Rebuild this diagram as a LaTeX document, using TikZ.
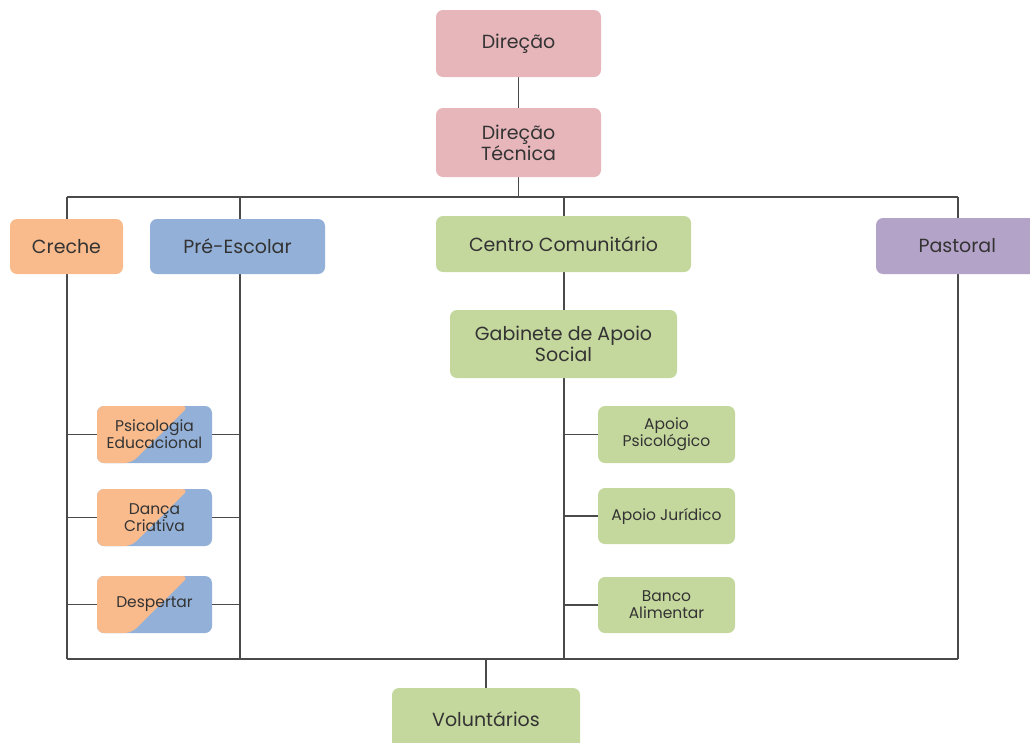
\documentclass[tikz,border=0pt]{standalone}
\usepackage{fontspec}
\setmainfont{Poppins}
\usetikzlibrary{calc,backgrounds}
\definecolor{pinkC}{HTML}{E6B6BA}
\definecolor{orangeC}{HTML}{F9BA8C}
\definecolor{blueC}{HTML}{93B1D8}
\definecolor{greenC}{HTML}{C4D79D}
\definecolor{purpleC}{HTML}{B4A3C8}
\definecolor{txtC}{HTML}{333333}
\definecolor{lineC}{HTML}{4A4A4A}
\tikzset{
  box/.style={rounded corners=7pt, text=txtC, align=center, inner sep=2pt,
    font=\fontsize{19}{21}\selectfont},
  small/.style={box, font=\fontsize{15.5}{17}\selectfont},
  split/.style={small, fill=blueC,
    path picture={\fill[orangeC] (path picture bounding box.south west)
      -- ($(path picture bounding box.south west)!0.3!(path picture bounding box.south east)$)
      -- ($(path picture bounding box.north west)!0.8!(path picture bounding box.north east)$)
      -- (path picture bounding box.north west) -- cycle;}},
  conn/.style={draw=lineC, line width=1.1pt}
}
\begin{document}
\begin{tikzpicture}[x=1pt,y=-1pt]
\useasboundingbox (0,0) rectangle (1030,742);
% main boxes
\node[box, fill=pinkC, minimum width=165pt, minimum height=67pt] (dir) at (518.5,43.5) {Direção};
\node[box, fill=pinkC, minimum width=165pt, minimum height=69pt] (dtec) at (518.5,142.5) {Direção\\Técnica};
\node[box, fill=orangeC, minimum width=113pt, minimum height=55pt] (creche) at (66.5,246.5) {Creche};
\node[box, fill=blueC, minimum width=175pt, minimum height=55pt] (pre) at (237.5,246.5) {Pré-Escolar};
\node[box, fill=greenC, minimum width=255pt, minimum height=56pt] (cc) at (563.5,244) {Centro Comunitário};
\node[box, fill=greenC, minimum width=227pt, minimum height=68pt] (gab) at (563.5,344) {Gabinete de Apoio\\Social};
\node[box, fill=purpleC, minimum width=169pt, minimum height=56pt, text width=150pt, align=left] (past) at (960.5,246) {\hspace*{33pt}Pastoral};
\node[box, fill=greenC, minimum width=188pt, minimum height=62pt] (vol) at (486,719) {Voluntários};
% split boxes
\node[split, minimum width=115pt, minimum height=57pt] (psi) at (154.5,434.5) {Psicologia\\Educacional};
\node[split, minimum width=115pt, minimum height=57pt] (danca) at (154.5,517.5) {Dança\\Criativa};
\node[split, minimum width=115pt, minimum height=57pt] (desp) at (154.5,604.5) {Despertar};
% green small boxes
\node[small, fill=greenC, minimum width=137pt, minimum height=57pt] (apsi) at (666.5,434.5) {Apoio\\Psicológico};
\node[small, fill=greenC, minimum width=137pt, minimum height=56pt] (ajur) at (666.5,516) {Apoio Jurídico};
\node[small, fill=greenC, minimum width=137pt, minimum height=56pt] (banco) at (666.5,605) {Banco\\Alimentar};
% bus coordinates
\coordinate (tl) at (67,197);
\coordinate (tr) at (958,197);
\coordinate (bl) at (67,659);
\coordinate (br) at (958,659);
\coordinate (tp) at (240,197);
\coordinate (bp) at (240,659);
\coordinate (tc) at (564,197);
\coordinate (bc) at (564,659);
\begin{scope}[on background layer]
\draw[conn] (dir) -- (dtec);
\draw[conn] (dtec.south) -- (dtec.south |- tl);
\draw[conn] (tl) -- (tr);
\draw[conn] (bl) -- (br);
\draw[conn] (tl) -- (bl);
\draw[conn] (tp) -- (bp);
\draw[conn] (tc) -- (bc);
\draw[conn] (tr) -- (br);
\draw[conn] (vol.north) -- (vol.north |- bl);
\foreach \n in {psi,danca,desp}{
  \draw[conn] (\n.west) -- (\n.west -| tl);
  \draw[conn] (\n.east) -- (\n.east -| tp);
}
\foreach \n in {apsi,ajur,banco}{
  \draw[conn] (\n.west) -- (\n.west -| tc);
}
\end{scope}
\end{tikzpicture}
\end{document}
